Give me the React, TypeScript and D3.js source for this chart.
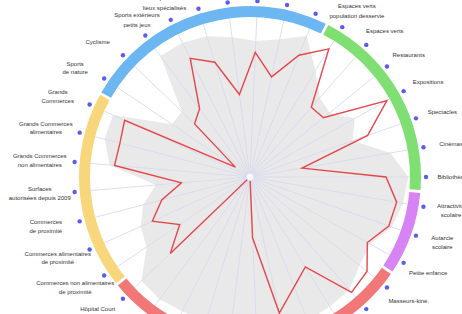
import React from "react";
import * as d3 from "d3";

// one entry per axis, clockwise, first axis just right of 12 o'clock
const labels: string[][] = [
  ["Piscines"],
  ["Gymnases"],
  ["Stades"],
  ["Espaces verts", "population desservie"],
  ["Espaces verts"],
  ["Restaurants"],
  ["Expositions"],
  ["Spectacles"],
  ["Cinémas"],
  ["Bibliothèque"],
  ["Attractivité", "scolaire"],
  ["Autarcie", "scolaire"],
  ["Petite enfance"],
  ["Masseurs-kiné."],
  ["Médecins", "généralistes"],
  ["Pharmacies"],
  ["Infirmiers"],
  ["Dentistes"],
  ["Spécialistes"],
  ["Urgences"],
  ["Maternité"],
  ["Psychiatrie"],
  ["Hôpital Moyen", "séjour"],
  ["Hôpital Court", "séjour"],
  ["Commerces non alimentaires", "de proximité"],
  ["Commerces alimentaires", "de proximité"],
  ["Commerces", "de proximité"],
  ["Surfaces", "autorisées depuis 2009"],
  ["Grands Commerces", "non alimentaires"],
  ["Grands Commerces", "alimentaires"],
  ["Grands", "Commerces"],
  ["Sports", "de nature"],
  ["Cyclisme"],
  ["Sports extérieurs", "petits jeux"],
  ["Sports", "lieux spécialisés"],
  ["Tennis"],
  ["Salles", "spécialisées"],
];

const groups: string[] = [
  "sport", "sport", "sport",
  "culture", "culture", "culture", "culture", "culture", "culture", "culture",
  "ecole", "ecole", "ecole",
  "sante", "sante", "sante", "sante", "sante", "sante", "sante", "sante", "sante", "sante", "sante",
  "commerce", "commerce", "commerce", "commerce", "commerce", "commerce", "commerce",
  "sport", "sport", "sport", "sport", "sport", "sport",
];

const groupColors: Record<string, string> = {
  sport: "#6cb6f2",
  culture: "#7fdf72",
  ecole: "#d883f4",
  sante: "#f27878",
  commerce: "#f8d67c",
};

// territory profile (red)
const redValues = [
  78, 64, 82, 94, 58, 59, 98, 78, 33, 85, 93, 92, 84, 94, 96, 66, 74, 87, 38,
  0, 0, 0, 0, 69, 53, 67, 57, 43, 85, 84, 86, 11, 48, 53, 83, 75, 52,
];

// reference envelope (grey)
const greyValues = [
  85, 88, 95, 78, 66, 64, 75, 68, 89, 99, 97, 94, 86, 88, 94, 95, 97, 97, 97,
  97, 95, 94, 95, 94, 78, 75, 69, 59, 88, 94, 94, 59, 59, 94, 94, 92, 88,
];

export default function App() {
  const width = 462,
    height = 314;
  const cx = 250,
    cy = 177;
  const n = labels.length;
  const step = (2 * Math.PI) / n;
  const offset = Math.PI / 2 - 9 * step;
  const angle = (k: number) => offset + k * step;

  const r = d3.scaleLinear().domain([0, 100]).range([0, 160]);

  const radial = d3
    .lineRadial<number>()
    .angle((d, i) => angle(i))
    .radius((d) => r(d))
    .curve(d3.curveLinearClosed);

  // runs of same group for the outer ring
  const start = groups.findIndex((g, i) => g !== groups[(i + n - 1) % n]);
  const runs: { g: string; a0: number; a1: number }[] = [];
  for (let j = 0; j < n; j++) {
    const k = (start + j) % n;
    const last = runs[runs.length - 1];
    if (last && last.g === groups[k]) {
      last.a1 = angle(start + j) + step / 2;
    } else {
      runs.push({ g: groups[k], a0: angle(start + j) - step / 2, a1: angle(start + j) + step / 2 });
    }
  }
  const ring = d3.arc<any>().innerRadius(160).outerRadius(171).padAngle(0.012);

  return (
    <svg
      width={width}
      height={height}
      style={{ position: "absolute", left: 0, top: 0, background: "#fff" }}
      fontFamily="'Liberation Sans', Arial, sans-serif"
    >
      <g transform={`translate(${cx},${cy})`}>
        <path d={radial(greyValues) || ""} fill="#e9e9e9" />
        {labels.map((l, k) => {
          const a = angle(k);
          return (
            <line
              key={"ax" + k}
              x1={0}
              y1={0}
              x2={160 * Math.sin(a)}
              y2={-160 * Math.cos(a)}
              stroke="#d9d9f0"
              strokeWidth={0.9}
            />
          );
        })}
        <path d={radial(redValues) || ""} fill="none" stroke="#e5474b" strokeWidth={1.4} strokeLinejoin="miter" />
        <circle r={3.5} fill="#fff" stroke="#e4e4f2" strokeWidth={0.8} />
        {runs.map((s, i) => (
          <path
            key={"ring" + i}
            d={ring({ startAngle: s.a0, endAngle: s.a1 }) || ""}
            fill={groupColors[s.g]}
          />
        ))}
        {labels.map((l, k) => {
          const a = angle(k);
          return (
            <circle
              key={"dot" + k}
              cx={176 * Math.sin(a)}
              cy={-176 * Math.cos(a)}
              r={2.2}
              fill="#5b5bec"
            />
          );
        })}
        {labels.map((l, k) => {
          const a = angle(k);
          const s = Math.sin(a);
          const c = Math.cos(a);
          const top = c > 0.75;
          const rx = s < 0 ? (top ? 190 : 211) : 204;
          const lh = top ? 10 : 8.5;
          const x = rx * s;
          const y = -(c > 0 ? 195 : 197) * c - ((l.length - 1) * lh) / 2 + 2;
          return (
            <text key={"lb" + k} x={x} y={y} fontSize={6} fill="#333" textAnchor="middle">
              {l.map((t, j) => (
                <tspan key={j} x={x} dy={j === 0 ? 0 : lh}>
                  {t}
                </tspan>
              ))}
            </text>
          );
        })}
      </g>
    </svg>
  );
}
